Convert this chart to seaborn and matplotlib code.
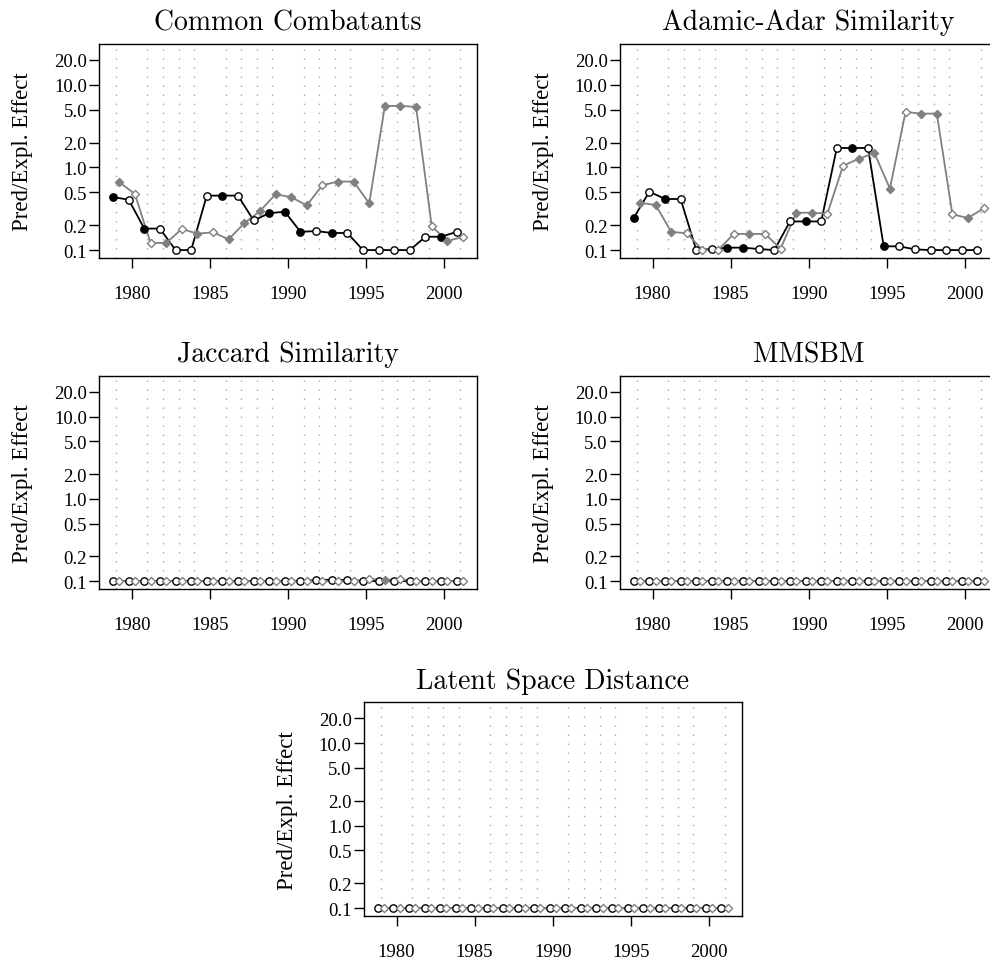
import numpy as np
import pandas as pd
import matplotlib
matplotlib.use("Agg")
import matplotlib.pyplot as plt
from matplotlib.ticker import NullLocator, FixedLocator, FixedFormatter
import seaborn as sns

# ---------------- data ----------------
years = list(range(1979, 2002))

titles = ["Common Combatants", "Adamic-Adar Similarity", "Jaccard Similarity",
          "MMSBM", "Latent Space Distance"]

cc_black = [0.438, 0.407, 0.182, 0.182, 0.1, 0.1, 0.456, 0.456, 0.456, 0.228, 0.28, 0.291,
            0.166, 0.17, 0.161, 0.161, 0.1, 0.1, 0.1, 0.1, 0.145, 0.145, 0.166]
cc_black_filled = [1, 0, 1, 0, 0, 0, 0, 1, 0, 0, 1, 1, 1, 0, 1, 0, 0, 0, 0, 0, 0, 1, 0]
cc_gray = [0.662, 0.477, 0.122, 0.122, 0.18, 0.158, 0.164, 0.135, 0.211, 0.296, 0.473, 0.438,
           0.347, 0.609, 0.675, 0.675, 0.367, 5.54, 5.56, 5.4, 0.194, 0.129, 0.144]
cc_gray_filled = [1, 0, 0, 1, 0, 1, 0, 1, 1, 1, 1, 1, 1, 0, 1, 1, 1, 1, 1, 1, 0, 1, 0]

aa_black = [0.245, 0.51, 0.415, 0.415, 0.1, 0.103, 0.107, 0.107, 0.103, 0.1, 0.222, 0.222,
            0.222, 1.72, 1.72, 1.72, 0.111, 0.111, 0.102, 0.1, 0.1, 0.1, 0.1]
aa_black_filled = [1, 0, 1, 0, 0, 0, 1, 1, 0, 0, 0, 1, 0, 0, 1, 0, 1, 0, 0, 0, 0, 0, 0]
aa_gray = [0.374, 0.351, 0.166, 0.16, 0.1, 0.1, 0.157, 0.157, 0.157, 0.104, 0.283, 0.283,
           0.277, 1.05, 1.27, 1.5, 0.555, 4.69, 4.48, 4.48, 0.27, 0.245, 0.319]
aa_gray_filled = [1, 1, 1, 0, 0, 0, 0, 1, 0, 0, 1, 1, 0, 0, 1, 1, 1, 0, 1, 1, 0, 1, 0]

jac_black = [0.1] * 13 + [0.103, 0.104, 0.103] + [0.1] * 7
jac_black_filled = [0] * 23
jac_gray = [0.1] * 16 + [0.106, 0.104, 0.105] + [0.1] * 4
jac_gray_filled = [0] * 17 + [1] + [0] * 5

mm_black = [0.1] * 23
mm_black_filled = [0] * 23
mm_gray = [0.1] * 23
mm_gray_filled = [0] * 23

ls_black = [0.1] * 23
ls_black_filled = [0] * 23
ls_gray = [0.1] * 23
ls_gray_filled = [0] * 23

ytick_vals = [0.1, 0.2, 0.5, 1.0, 2.0, 5.0, 10.0, 20.0]
ytick_labels = ["0.1", "0.2", "0.5", "1.0", "2.0", "5.0", "10.0", "20.0"]
xtick_vals = [1980, 1985, 1990, 1995, 2000]

panels = [
    (titles[0], cc_black, cc_black_filled, cc_gray, cc_gray_filled),
    (titles[1], aa_black, aa_black_filled, aa_gray, aa_gray_filled),
    (titles[2], jac_black, jac_black_filled, jac_gray, jac_gray_filled),
    (titles[3], mm_black, mm_black_filled, mm_gray, mm_gray_filled),
    (titles[4], ls_black, ls_black_filled, ls_gray, ls_gray_filled),
]

# ---------------- style ----------------
sns.set_style("ticks")
plt.rcParams["font.family"] = ["Liberation Serif", "DejaVu Serif"]

W, H = 990, 962
fig = plt.figure(figsize=(W / 100, H / 100), dpi=100)

# axes boxes in pixels: (left, top, width, height)
boxes = [(99, 45, 378, 214), (619.7, 45, 378, 214),
         (99, 377, 378, 213), (619.7, 377, 378, 213),
         (363.7, 703.3, 378, 213.7)]

GRAY = "#808080"
off = 0.2
ylo = 0.1 * 10 ** -0.0959
yhi = 25 * 10 ** 0.0959

for (title, yb, fb, yg, fg), (l, t, w, h) in zip(panels, boxes):
    ax = fig.add_axes([l / W, 1 - (t + h) / H, w / W, h / H])
    ax.set_yscale("log")
    xb = [y - off for y in years]
    xg = [y + off for y in years]
    dfb = pd.DataFrame({"x": xb, "y": yb, "f": fb})
    dfg = pd.DataFrame({"x": xg, "y": yg, "f": fg})

    sns.lineplot(data=dfb, x="x", y="y", ax=ax, color="black", linewidth=1.3,
                 sort=False, zorder=2)
    sns.lineplot(data=dfg, x="x", y="y", ax=ax, color=GRAY, linewidth=1.3,
                 sort=False, zorder=2)
    # black circles
    sub = dfb[dfb.f == 1]
    if len(sub):
        sns.scatterplot(data=sub, x="x", y="y", ax=ax, marker="o", s=28, color="black",
                        edgecolor="black", linewidth=1.0, zorder=3)
    sub = dfb[dfb.f == 0]
    if len(sub):
        sns.scatterplot(data=sub, x="x", y="y", ax=ax, marker="o", s=28, color="white",
                        edgecolor="black", linewidth=1.0, zorder=3)
    # gray diamonds
    sub = dfg[dfg.f == 1]
    if len(sub):
        sns.scatterplot(data=sub, x="x", y="y", ax=ax, marker="D", s=17, color=GRAY,
                        edgecolor=GRAY, linewidth=1.0, zorder=3)
    sub = dfg[dfg.f == 0]
    if len(sub):
        sns.scatterplot(data=sub, x="x", y="y", ax=ax, marker="D", s=17, color="white",
                        edgecolor=GRAY, linewidth=1.0, zorder=3)

    ax.set_xlim(1977.9, 2002.1)
    ax.set_ylim(ylo, yhi)
    ax.yaxis.set_major_locator(FixedLocator(ytick_vals))
    ax.yaxis.set_major_formatter(FixedFormatter(ytick_labels))
    ax.yaxis.set_minor_locator(NullLocator())
    ax.set_xticks(xtick_vals)
    ax.set_xticklabels([str(v) for v in xtick_vals])
    ax.set_xticks(years, minor=True)
    ax.grid(which="minor", axis="x", color="#a8a8a8", linestyle=(0, (1, 5.5)), linewidth=1.0)
    ax.grid(which="major", axis="both", visible=False)
    ax.tick_params(axis="x", which="minor", length=0)
    ax.tick_params(axis="both", which="major", length=7.2, width=1.0, color="black",
                   labelsize=13.5, labelcolor="black", direction="out")
    ax.tick_params(axis="x", which="major", pad=12)
    ax.tick_params(axis="y", which="major", pad=1.5)
    for sp in ax.spines.values():
        sp.set_visible(True)
        sp.set_color("black")
        sp.set_linewidth(1.0)

    ax.set_xlabel("")
    ax.set_ylabel("Pred/Expl. Effect", fontsize=16.5, color="black")
    ax.yaxis.label.set_va("center")
    ax.yaxis.set_label_coords(-76.5 / w, 0.5)
    ax.set_title(title, fontsize=20, family="cmr10", pad=10.5, color="black")
    if ax.get_legend() is not None:
        ax.get_legend().remove()

fig.savefig("out.png", dpi=100)
